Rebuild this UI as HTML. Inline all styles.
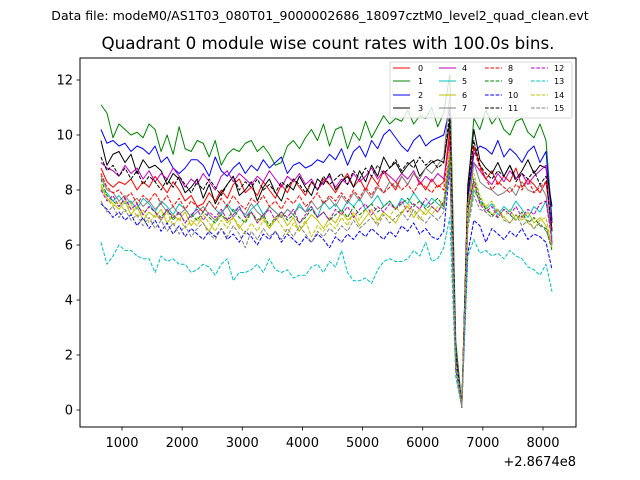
<!DOCTYPE html>
<html><head><meta charset="utf-8"><style>
html,body{margin:0;padding:0;background:#fff;}
svg{display:block;font-family:"DejaVu Sans","Liberation Sans",sans-serif;}
</style></head><body>
<svg id="chart" width="640" height="480" viewBox="0 0 640 480">
<text x="320" y="20" text-anchor="middle" font-size="12.55">Data file: modeM0/AS1T03_080T01_9000002686_18097cztM0_level2_quad_clean.evt</text>
<text x="328" y="49" text-anchor="middle" font-size="16.7">Quadrant 0 module wise count rates with 100.0s bins.</text>
<g id="series"></g>
<rect x="80" y="58" width="496" height="369" fill="none" stroke="#000" stroke-width="1"/>
<g id="xticks"></g>
<g id="yticks"></g>
<text x="576" y="466" text-anchor="end" font-size="13">+2.8674e8</text>
<g id="legend"></g>
</svg>
<script>
const xStart = 650, xStep = 100;
const xTicks = [1000,2000,3000,4000,5000,6000,7000,8000];
const yTicks = [0,2,4,6,8,10,12];
const labels = ["0","1","2","3","4","5","6","7","8","9","10","11","12","13","14","15"];
const colors = ["#ff0000","#008000","#0000ff","#000000","#bf00bf","#00bfbf","#bfbf00","#808080","#ff0000","#008000","#0000ff","#000000","#bf00bf","#00bfbf","#bfbf00","#808080"];
const s0=[8.8,8.3,8.1,8.3,8.2,8.4,8.0,8.3,8.1,8.5,8.2,7.9,8.3,8.0,7.6,7.8,7.4,7.5,7.9,7.6,8.0,7.7,8.2,8.4,7.9,8.1,7.8,8.3,8.0,7.7,8.2,7.9,8.4,8.1,7.8,8.3,8.0,8.4,8.2,7.9,8.3,8.6,8.1,8.4,8.0,8.5,8.2,8.7,8.3,8.0,8.5,8.2,8.6,8.3,8.0,8.4,8.1,8.3,10.2,2.0,0.1,7.8,9.6,8.9,8.4,8.7,8.2,8.5,8.3,8.8,8.1,8.4,8.2,7.9,8.3,6.5];
const s1=[11.1,10.8,9.9,10.4,10.2,10.0,10.1,9.9,10.4,10.2,9.4,10.0,9.3,10.3,9.5,9.4,9.8,9.7,9.2,9.8,8.9,9.3,9.5,9.4,9.7,9.8,9.4,9.6,9.3,8.9,9.0,9.6,9.8,9.5,9.9,10.2,9.8,10.4,9.6,10.2,10.3,9.5,10.1,9.8,10.5,9.9,10.3,10.7,10.4,10.6,10.5,10.9,10.4,10.7,10.6,11.0,10.3,10.8,12.2,2.5,0.2,8.0,10.6,10.2,10.9,10.4,10.7,10.2,10.0,10.5,10.6,10.1,9.9,10.4,9.8,6.9];
const s2=[10.2,9.7,9.8,9.6,9.7,9.4,9.6,9.5,9.3,9.6,9.0,9.2,8.8,8.6,8.8,9.1,9.1,8.9,8.5,9.2,8.7,8.5,8.8,9.0,8.6,8.9,8.7,9.1,8.8,9.0,9.2,8.6,8.9,9.0,8.8,8.9,9.1,9.0,9.3,9.1,9.5,8.9,9.4,9.6,9.2,9.8,9.5,10.0,10.2,9.9,9.6,9.4,9.8,10.0,9.6,9.8,9.9,10.0,11.0,2.2,0.1,7.7,9.3,9.6,9.5,9.3,9.8,9.2,9.5,9.3,9.0,9.4,9.6,9.0,9.4,6.8];
const s3=[9.8,8.9,9.3,9.4,9.0,9.3,8.6,9.1,8.8,8.9,8.7,8.2,8.6,8.4,7.9,8.1,8.4,7.7,8.2,7.5,7.9,8.2,8.5,7.8,8.0,8.3,7.6,8.1,8.4,7.9,7.6,8.2,8.0,8.5,8.1,7.8,8.4,8.2,8.6,8.0,8.3,8.5,8.1,8.7,8.3,8.9,8.5,9.2,8.8,9.0,8.6,8.9,9.1,8.5,8.8,9.0,9.1,9.0,10.5,2.0,0.1,8.2,10.2,9.1,8.8,8.6,9.0,8.5,8.9,8.4,8.7,9.1,8.6,8.9,8.8,7.4];
const s4=[9.0,8.8,8.7,8.5,8.9,8.6,8.8,8.4,8.7,8.3,8.6,8.4,8.8,8.5,8.1,8.4,8.2,8.6,8.3,8.0,8.5,8.7,8.3,8.6,8.4,8.2,8.5,8.3,8.7,8.4,8.1,8.5,8.3,8.6,8.2,8.4,8.0,8.3,8.5,8.1,8.4,8.2,8.6,8.3,8.5,8.8,8.4,8.7,8.5,8.3,8.6,8.4,8.7,8.2,8.5,8.3,8.6,8.4,9.8,1.8,0.1,7.2,9.0,8.7,8.4,8.2,8.6,8.3,8.7,8.4,8.6,8.2,8.5,8.7,8.9,6.0];
const s5=[8.0,7.9,7.6,7.8,7.5,7.6,7.3,7.7,7.5,7.2,7.6,7.4,7.1,7.5,7.3,7.0,7.4,7.2,7.6,7.3,7.1,7.5,7.2,7.4,7.0,7.3,7.5,7.1,7.4,7.2,7.0,7.3,7.1,7.5,7.2,7.4,7.0,7.6,7.3,7.5,7.2,7.6,7.4,7.7,7.3,7.5,7.8,7.4,7.6,7.3,7.7,7.5,7.9,7.6,7.4,7.7,7.5,7.3,9.0,1.5,0.1,6.8,8.0,7.6,7.3,7.5,7.1,7.4,7.2,7.6,7.3,7.0,7.4,7.2,7.6,6.3];
const s6=[8.2,7.7,7.5,7.3,7.6,7.1,7.4,6.9,7.2,7.0,7.3,6.8,7.1,6.9,7.2,6.7,7.0,6.8,6.5,6.9,7.1,6.8,7.0,6.6,6.9,7.2,6.8,7.0,6.6,6.9,7.1,6.7,7.0,6.5,6.8,7.1,6.9,6.6,7.0,6.8,7.2,6.9,7.1,6.7,7.0,7.3,6.9,7.2,7.0,6.8,7.2,7.4,7.0,7.3,7.1,7.4,7.2,7.5,9.3,1.7,0.1,6.9,8.2,7.5,7.4,7.1,7.3,7.0,6.8,7.1,6.9,7.2,6.8,7.0,6.7,6.0];
const s7=[8.5,8.0,7.9,7.6,7.8,7.5,7.7,7.4,7.6,7.3,7.5,7.2,7.4,7.1,7.3,7.0,7.2,7.4,7.1,6.9,7.2,7.4,7.0,7.3,7.1,7.5,7.2,7.0,7.4,7.2,7.0,7.3,7.1,7.4,7.2,7.6,7.3,7.5,7.7,7.4,7.8,7.5,7.9,7.6,8.0,7.7,8.1,7.9,8.3,8.1,8.5,8.2,8.6,8.4,8.8,8.6,8.9,9.2,11.5,2.2,0.1,7.4,9.0,8.3,8.1,8.0,7.8,7.9,8.1,7.8,8.3,8.0,7.9,8.2,7.8,6.2];
const s8=[8.6,8.1,7.9,8.0,7.7,7.9,7.5,7.8,7.6,7.9,7.5,7.8,7.4,7.7,7.3,7.6,7.4,7.2,7.6,7.3,7.7,7.4,7.8,7.5,7.3,7.7,7.5,7.8,7.4,7.6,7.3,7.7,7.5,7.8,7.4,7.6,7.9,7.5,7.8,7.6,7.9,7.6,8.0,7.7,8.1,7.8,8.2,7.9,8.1,8.3,8.0,8.2,7.9,8.3,8.1,7.9,8.2,8.0,10.0,1.9,0.1,8.0,9.5,8.8,8.4,8.0,8.3,8.1,7.9,8.2,8.0,8.4,7.9,8.1,8.3,6.6];
const s9=[8.4,7.8,7.6,7.4,7.7,7.3,7.5,7.1,7.4,7.2,7.0,7.3,6.9,7.2,6.8,7.1,6.9,7.2,7.0,6.8,7.1,6.9,7.3,7.0,6.8,7.2,6.9,7.1,6.7,7.0,7.2,6.9,7.1,6.8,7.0,7.3,7.0,7.2,6.9,7.1,7.3,7.0,7.4,7.1,7.3,7.5,7.2,7.4,7.6,7.3,7.5,7.7,7.4,7.6,7.3,7.5,7.7,7.4,9.2,1.6,0.1,7.3,8.4,7.7,7.3,7.1,7.0,7.3,7.1,6.9,7.2,6.8,7.0,6.7,6.6,5.8];
const s10=[7.5,7.3,7.0,7.2,6.9,7.1,6.7,7.0,6.6,6.9,6.5,6.8,6.4,6.7,6.3,6.6,6.4,6.2,6.5,6.3,6.6,6.2,6.4,6.1,6.5,6.3,6.0,6.4,6.2,6.5,6.1,6.4,6.2,6.0,6.3,6.1,6.4,6.2,5.9,6.3,6.1,6.4,6.2,6.5,6.3,6.6,6.4,6.2,6.5,6.3,6.7,6.5,6.8,6.4,6.6,6.3,6.2,6.5,8.8,1.5,0.1,5.7,6.9,6.7,6.1,6.6,6.4,6.2,6.5,6.3,6.6,6.2,6.4,6.3,6.1,5.1];
const s11=[9.2,8.7,8.9,8.5,8.8,8.4,8.7,8.2,8.5,8.3,8.0,8.4,8.1,8.5,8.2,7.9,8.3,8.0,8.4,8.1,7.8,8.2,8.5,8.0,8.3,8.1,8.4,8.0,8.2,7.9,8.3,8.1,8.4,8.2,7.9,8.3,8.0,8.5,8.2,8.4,8.6,8.2,8.7,8.4,8.8,8.5,8.9,8.6,8.8,9.1,8.7,9.0,8.8,9.2,8.9,9.1,8.8,9.0,10.8,2.1,0.1,7.9,9.8,8.9,8.6,8.4,8.7,8.5,8.9,8.3,8.6,8.4,8.7,8.2,8.5,6.5];
const s12=[8.0,7.6,7.8,7.4,7.7,7.3,7.5,7.1,7.4,7.2,6.9,7.3,7.0,7.2,6.8,7.1,7.3,6.9,7.2,7.0,7.3,6.9,7.1,7.4,7.0,7.2,6.8,7.1,7.3,6.9,7.2,7.0,7.3,6.8,7.1,7.4,7.0,7.2,6.9,7.3,7.1,7.4,7.0,7.3,7.5,7.1,7.4,7.2,7.5,7.3,7.6,7.2,7.5,7.3,7.7,7.4,7.2,7.6,9.5,1.8,0.1,7.2,8.3,7.5,7.2,7.4,7.0,7.3,7.1,7.4,7.0,7.3,7.1,7.5,7.6,6.1];
const s13=[6.1,5.3,5.6,6.0,5.8,5.8,5.6,5.5,5.5,5.0,5.6,5.4,5.5,5.3,5.3,5.0,5.1,5.3,5.2,4.9,5.3,5.5,4.7,5.0,5.0,5.1,5.3,5.0,5.5,5.1,5.0,5.1,4.8,4.9,4.9,5.2,5.3,5.0,5.4,5.2,5.8,5.0,4.7,4.7,4.8,4.6,5.1,5.4,5.5,5.4,5.4,5.5,5.8,5.6,6.1,5.4,5.5,5.9,7.0,1.2,0.1,5.6,6.2,5.7,5.8,5.6,5.7,5.5,5.8,5.6,5.5,5.2,5.1,4.9,5.3,4.3];
const s14=[8.1,7.7,7.4,7.6,7.2,7.5,7.0,7.3,6.8,7.1,6.9,7.2,6.7,7.0,6.6,6.9,6.7,7.1,6.8,6.5,6.9,6.6,7.0,6.7,6.4,6.8,6.5,6.9,6.6,7.0,6.7,6.4,6.8,6.5,6.9,6.3,6.7,6.5,6.8,6.6,7.0,6.7,7.2,6.9,7.3,7.0,6.8,7.2,7.0,7.4,7.1,7.5,7.2,6.9,7.3,7.1,7.4,7.6,9.4,1.7,0.1,7.5,8.6,7.8,7.4,7.6,7.2,7.0,7.3,6.9,7.1,6.8,6.6,6.9,7.0,5.9];
const s15=[7.6,7.2,7.4,7.0,7.3,6.9,7.1,6.7,7.0,6.6,6.9,6.5,6.8,6.4,6.7,6.3,6.6,6.8,6.4,6.2,6.6,6.3,6.7,6.4,5.9,6.5,6.2,6.6,6.3,6.5,6.2,6.6,6.3,6.7,6.4,6.1,6.5,6.3,6.6,6.4,6.7,6.5,6.9,6.6,6.8,7.0,6.7,7.1,6.8,7.0,7.2,6.9,7.3,7.0,6.8,7.1,6.9,7.2,8.8,1.5,0.1,6.6,7.8,7.3,7.2,7.0,7.3,6.9,6.8,7.1,6.7,6.9,6.6,6.8,6.5,6.0];
const seriesList=[s0,s1,s2,s3,s4,s5,s6,s7,s8,s9,s10,s11,s12,s13,s14,s15];

const NS="http://www.w3.org/2000/svg";
function xScale(v){return 122+(v-1000)*(543-122)/7000;}
function yScale(v){return 410-v*(410-80)/12;}
function mk(tag,attrs,parent){const e=document.createElementNS(NS,tag);for(const k in attrs)e.setAttribute(k,attrs[k]);parent.appendChild(e);return e;}

const sg=document.getElementById('series');
seriesList.forEach((arr,si)=>{
  const pts=arr.map((v,i)=>xScale(xStart+i*xStep).toFixed(2)+","+yScale(v).toFixed(2)).join(" ");
  const a={points:pts,fill:"none",stroke:colors[si],"stroke-width":"1","stroke-linejoin":"round"};
  if(si>=8)a["stroke-dasharray"]="3.7,1.6";
  const pl=mk('polyline',a,sg);
  
  
});

const xg=document.getElementById('xticks');
xTicks.forEach(t=>{
  const x=xScale(t);
  const l=mk('line',{x1:x,x2:x,y1:427,y2:430.5,stroke:"#000","stroke-width":"0.8"},xg);
  
  
  const tx=mk('text',{x:x,y:447,"text-anchor":"middle","font-size":"13"},xg);
  tx.textContent=t;
  
  
});
const yg=document.getElementById('yticks');
yTicks.forEach(t=>{
  const y=yScale(t);
  const l=mk('line',{x1:76.5,x2:80,y1:y,y2:y,stroke:"#000","stroke-width":"0.8"},yg);
  
  
  const tx=mk('text',{x:73,y:y+4.5,"text-anchor":"end","font-size":"13"},yg);
  tx.textContent=t;
  
  
});

const lg=document.getElementById('legend');
const box=mk('rect',{x:390,y:62,width:182,height:56,rx:2,fill:"#fff","fill-opacity":"0.8",stroke:"#ccc","stroke-width":"0.8"},lg);


const colX=[393,439,485,531];
const rowY=[68,81,95,108];
labels.forEach((lab,i)=>{
  const c=Math.floor(i/4), r=i%4;
  const x=colX[c], y=rowY[r];
  const a={x1:x,x2:x+17,y1:y,y2:y,stroke:colors[i],"stroke-width":"1"};
  if(i>=8)a["stroke-dasharray"]="3.7,1.6";
  const ln=mk('line',a,lg);
  
  
  const tx=mk('text',{x:x+(c==0?25:23),y:y+3,"font-size":"8"},lg);
  tx.textContent=lab;
  
  
});
</script>
</body></html>
